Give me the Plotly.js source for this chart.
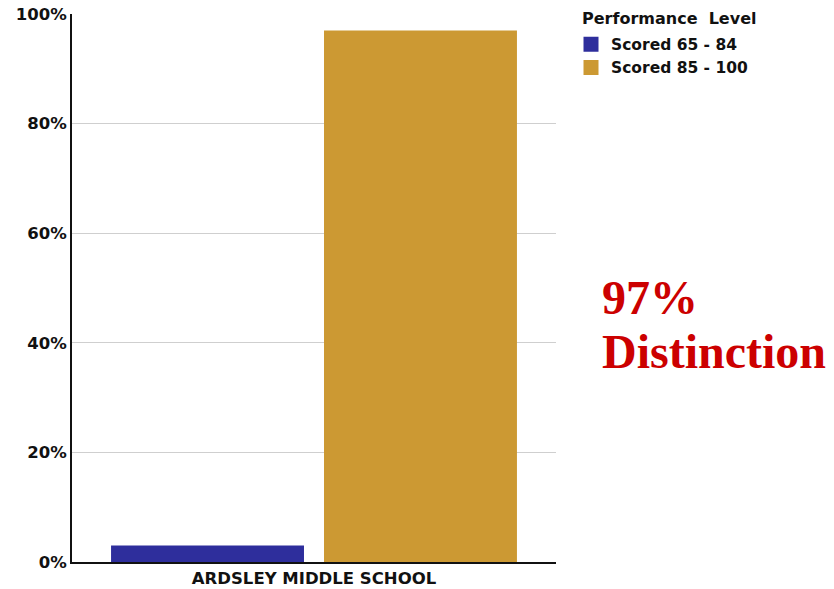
<!DOCTYPE html>
<html><head><meta charset="utf-8">
<script src="https://cdn.plot.ly/plotly-3.0.1.min.js"></script>
<style>html,body{margin:0;padding:0;background:#fff;}</style>
</head><body>
<div id="chart" style="width:834px;height:589px;"></div>
<script>
const categories = ["ARDSLEY MIDDLE SCHOOL"];
const seriesNames = ["Scored 65 - 84", "Scored 85 - 100"];
const seriesValues = [[3], [97]];
const seriesColors = ["#2e2e9c", "#cc9933"];
const tickVals = [0, 20, 40, 60, 80, 100];
const tickLabels = ["0%", "20%", "40%", "60%", "80%", "100%"];
const legendTitle = "Performance  Level";
const noteLines = ["97%", "Distinction"];

const barTraces = seriesNames.map((n, i) => ({
  type: "bar", name: n, x: categories, y: seriesValues[i],
  marker: {color: seriesColors[i]}, hoverinfo: "none", showlegend: false
}));
// legend-only entries with larger square swatches
const legendTraces = seriesNames.map((n, i) => ({
  type: "scatter", mode: "markers", name: "<b>" + n + "</b>", x: [null], y: [null],
  marker: {color: seriesColors[i], symbol: "square", size: 15}, hoverinfo: "none"
}));

const layout = {
  width: 834, height: 589,
  margin: {l: 72, r: 278, t: 14, b: 27, autoexpand: false},
  paper_bgcolor: "#fff", plot_bgcolor: "#fff",
  barmode: "group", bargap: 0.12, bargroupgap: 0.094,
  font: {family: "DejaVu Sans", size: 15, color: "#111"},
  showlegend: true,
  legend: {
    x: 1.031, y: 0.975, xanchor: "left", yanchor: "top",
    font: {family: "DejaVu Sans", size: 15.5, color: "#111"},
    itemwidth: 30, tracegroupgap: 0, itemsizing: "trace"
  },
  xaxis: {
    type: "category", showline: true, linecolor: "#111", linewidth: 2,
    ticks: "", showgrid: false, automargin: false,
    tickvals: categories, ticktext: categories.map(c => "<b>" + c + "</b>"),
    tickfont: {family: "DejaVu Sans", size: 16.5, color: "#111"},
    fixedrange: true
  },
  yaxis: {
    range: [0, 100], tickvals: tickVals, ticktext: tickLabels.map(t => "<b>" + t + "</b>"),
    showline: true, linecolor: "#111", linewidth: 2, automargin: false,
    showgrid: true, gridcolor: "#cfcfcf", gridwidth: 1,
    zeroline: false, ticks: "", ticklen: 0,
    tickfont: {family: "DejaVu Sans", size: 16.5, color: "#111"},
    fixedrange: true
  },
  annotations: [{
    xref: "paper", yref: "paper", x: 1.05, y: 0.991, xanchor: "left", yanchor: "middle",
    showarrow: false, text: "<b>" + legendTitle + "</b>",
    font: {family: "DejaVu Sans", size: 16, color: "#111"}
  }].concat(noteLines.map((t, i) => ({
    xref: "paper", yref: "paper", x: 1.091, y: [0.483, 0.385][i], xanchor: "left", yanchor: "middle",
    align: "left", showarrow: false,
    text: "<b>" + t + "</b>",
    font: {family: "Liberation Serif", size: 48, color: "#cc0000"}
  })))
};
Plotly.newPlot("chart", barTraces.concat(legendTraces), layout, {displayModeBar: false, staticPlot: true});
</script>
</body></html>
